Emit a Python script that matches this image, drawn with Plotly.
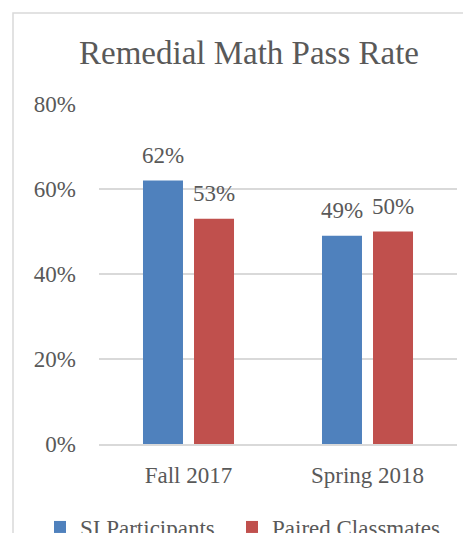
import plotly.graph_objects as go

categories = ["Fall 2017", "Spring 2018"]
si_participants = [62, 49]
paired_classmates = [53, 50]
series_names = ["SI Participants", "Paired Classmates"]
series_colors = ["#4F81BD", "#C0504D"]
tick_vals = [0, 20, 40, 60, 80]
tick_text = ["0%", "20%", "40%", "60%", "80%"]

FONT = "Liberation Serif"
GRAY = "#595959"

# page body has an 8px margin; figure sized to fill the rest of the window
W, H = 463, 525
L, T, R, B = 91, 96, 14, 89
PW, PH = W - L - R, H - T - B

legend_ids = ["legend", "legend2"]
fig = go.Figure()
for name, vals, col, lg in zip(series_names, [si_participants, paired_classmates],
                               series_colors, legend_ids):
    fig.add_trace(go.Bar(name=name, x=categories, y=vals, marker_color=col,
                         marker_line_width=0, legend=lg))

annotations = []
shifts = [-25.5, 25.5]
for vals, sh in zip([si_participants, paired_classmates], shifts):
    for c, v in zip(categories, vals):
        annotations.append(dict(x=c, y=v, text=f"{v}%", xref="x", yref="y",
                                showarrow=False, xshift=sh, yanchor="bottom", yshift=11,
                                font=dict(family=FONT, size=23, color=GRAY)))

legend_common = dict(orientation="h", xanchor="left", y=-(527 - 444) / PH,
                     yanchor="middle", itemwidth=30,
                     font=dict(family=FONT, size=23, color=GRAY))

fig.update_layout(
    width=W, height=H,
    margin=dict(l=L, r=R, t=T, b=B, autoexpand=False),
    paper_bgcolor="white", plot_bgcolor="white",
    title=dict(text="Remedial Math Pass Rate", xref="paper", x=(249 - 99) / PW,
               xanchor="center", y=1 - 44 / H, yanchor="middle", yref="container",
               font=dict(family=FONT, size=33, color=GRAY)),
    barmode="group", bargap=0.43, bargroupgap=0.216,
    showlegend=True,
    legend=dict(x=(40 - 99) / PW, **legend_common),
    legend2=dict(x=(232 - 99) / PW, **legend_common),
    annotations=annotations,
    font=dict(family=FONT, color=GRAY),
    shapes=[dict(type="rect", xref="paper", yref="paper",
                 x0=(13 - 99) / PW, x1=1.2, y0=-1, y1=(444 - 13) / PH,
                 line=dict(color="#D9D9D9", width=1.5), fillcolor="rgba(0,0,0,0)", layer="below")],
)
fig.update_yaxes(range=[0, 80], tickvals=tick_vals, ticktext=tick_text,
                 showgrid=True, gridcolor="#D9D9D9", gridwidth=1.5,
                 zeroline=False, showline=False, ticklabelstandoff=22,
                 tickfont=dict(family=FONT, size=23, color=GRAY))
fig.update_xaxes(showline=True, linecolor="#D9D9D9", linewidth=1.5,
                 ticklabelstandoff=10,
                 tickfont=dict(family=FONT, size=23, color=GRAY))

fig.write_html("out.html")
